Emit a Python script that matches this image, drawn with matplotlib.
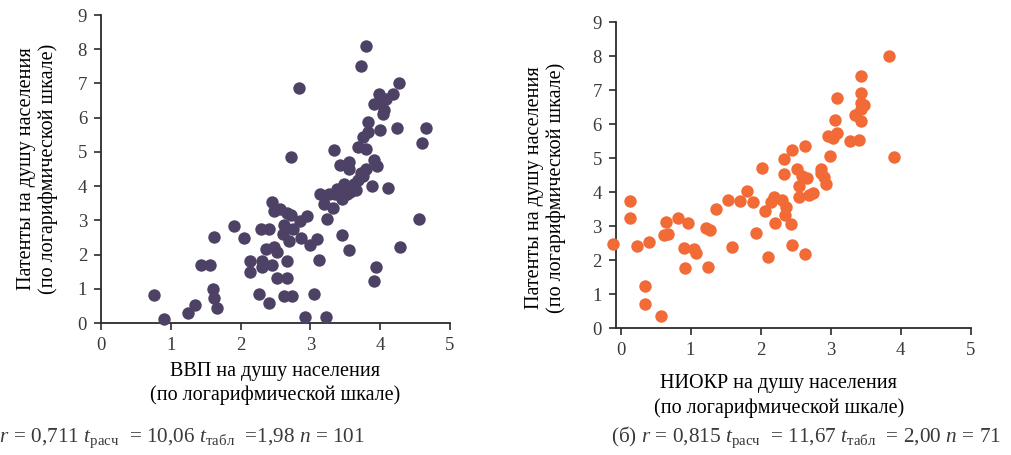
"""Patents vs GDP / R&D per capita scatter panels (log scales)."""

import matplotlib
matplotlib.use("Agg")
import matplotlib.pyplot as plt
import numpy as np


# (а) ВВП на душу населения vs патенты
gdp_x = [
    0.76, 0.91, 1.24, 1.35, 1.43, 1.56, 1.60, 1.62, 1.67, 1.62,
    1.91, 2.05, 2.14, 2.14, 2.27, 2.41, 2.29, 2.41, 2.31, 2.31,
    2.45, 2.36, 2.48, 2.52, 2.53, 2.67, 2.67, 2.63, 2.74, 2.45,
    2.48, 2.56, 2.66, 2.73, 2.63, 2.61, 2.75, 2.70, 2.85, 2.95,
    2.87, 3.00, 3.09, 3.13, 2.92, 3.05, 3.23, 2.72, 2.84, 3.14,
    3.19, 3.24, 3.33, 3.27, 3.34, 3.42, 3.55, 3.56, 3.39, 3.48,
    3.52, 3.45, 3.61, 3.66, 3.69, 3.73, 3.80, 3.91, 3.95, 3.89,
    4.12, 3.46, 3.56, 3.94, 3.91, 4.28, 4.56, 3.69, 3.80, 3.76,
    3.83, 3.83, 4.00, 4.24, 4.66, 4.60, 4.04, 4.06, 3.92, 3.99,
    4.08, 4.18, 4.27, 3.73, 3.80, 3.35, 3.47, 3.57, 3.62, 4.02,
    3.75,
]
gdp_y = [
    0.81, 0.13, 0.30, 0.52, 1.71, 1.69, 1.00, 0.73, 0.44, 2.51,
    2.85, 2.48, 1.82, 1.49, 0.85, 0.58, 2.75, 2.75, 1.82, 1.64,
    1.69, 2.16, 2.22, 2.08, 1.32, 1.32, 1.82, 0.78, 0.78, 3.54,
    3.27, 3.34, 3.22, 3.15, 2.86, 2.59, 2.75, 2.39, 2.98, 3.14,
    2.49, 2.27, 2.47, 1.84, 0.19, 0.85, 0.19, 4.84, 6.86, 3.77,
    3.49, 3.03, 3.37, 3.78, 5.05, 4.61, 4.71, 4.51, 3.91, 4.07,
    3.78, 3.61, 3.98, 3.88, 4.17, 4.37, 4.51, 4.76, 4.58, 4.00,
    3.95, 2.56, 2.12, 1.64, 1.23, 2.22, 3.05, 5.15, 5.08, 5.44,
    5.58, 5.86, 5.63, 5.70, 5.70, 5.27, 6.12, 6.22, 6.39, 6.69,
    6.56, 6.69, 7.00, 7.51, 8.10, 3.78, 3.85, 3.83, 4.05, 6.45,
    4.30,
]

# (б) НИОКР на душу населения vs патенты
rnd_x = [
    -0.11, 0.14, 0.13, 0.23, 0.40, 0.35, 0.35, 0.58, 0.65, 0.62,
    0.68, 0.82, 0.97, 0.90, 1.05, 1.08, 0.92, 1.25, 1.22, 1.28,
    1.37, 1.53, 1.59, 1.70, 1.80, 1.89, 1.94, 2.02, 2.07, 2.10,
    2.15, 2.19, 2.20, 2.31, 2.33, 2.33, 2.37, 2.35, 2.43, 2.45,
    2.45, 2.52, 2.55, 2.55, 2.59, 2.67, 2.64, 2.63, 2.69, 2.75,
    2.86, 2.86, 2.90, 2.93, 2.99, 2.97, 3.04, 3.09, 3.07, 3.09,
    3.28, 3.40, 3.35, 3.44, 3.43, 3.43, 3.48, 3.44, 3.44, 3.84,
    3.91,
]
rnd_y = [
    2.47, 3.74, 3.25, 2.42, 2.52, 1.25, 0.71, 0.36, 3.11, 2.75,
    2.76, 3.25, 3.10, 2.37, 2.34, 2.20, 1.77, 1.79, 2.95, 2.88,
    3.49, 3.78, 2.39, 3.75, 4.03, 3.71, 2.81, 4.70, 3.46, 2.10,
    3.72, 3.86, 3.08, 3.78, 4.99, 4.53, 3.57, 3.32, 3.06, 2.44,
    5.24, 4.67, 4.18, 3.86, 4.47, 4.43, 5.36, 2.18, 3.93, 3.99,
    4.67, 4.55, 4.45, 4.24, 5.06, 5.65, 5.58, 5.75, 6.12, 6.78,
    5.51, 5.55, 6.28, 6.10, 6.44, 6.61, 6.56, 6.92, 7.41, 8.00,
    5.04,
]

y_label = "Патенты на душу населения\n(по логарифмической шкале)"
gdp_label = "ВВП на душу населения\n(по логарифмической шкале)"
rnd_label = "НИОКР на душу населения\n(по логарифмической шкале)"
caption_a = (r"(а) $r$ = 0,711 $t_{\mathrm{расч}}$  = 10,06 "
             r"$t_{\mathrm{табл}}$  =1,98 $n$ = 101")
caption_b = (r"(б) $r$ = 0,815 $t_{\mathrm{расч}}$  = 11,67 "
             r"$t_{\mathrm{табл}}$  = 2,00 $n$ = 71")

plt.rcParams.update({
    "font.family": ["Liberation Serif", "DejaVu Serif"],
    "mathtext.fontset": "custom",
    "mathtext.rm": "Liberation Serif",
    "mathtext.it": "Liberation Serif:italic",
    "text.color": "#3a3a3a",
    "axes.edgecolor": "#2b2b2b",
    "xtick.color": "#2b2b2b",
    "ytick.color": "#2b2b2b",
    "xtick.labelcolor": "#3a3a3a",
    "ytick.labelcolor": "#3a3a3a",
    "font.size": 12,
})

TEXT = "#3a3a3a"
LABEL_SIZE = 14.5


def _style(ax, xmin):
    ax.set_xlim(xmin, 5)
    ax.set_ylim(0, 9)
    ax.set_xticks(np.arange(0, 6, 1))
    ax.set_yticks(np.arange(0, 10, 1))
    for side in ("top", "right"):
        ax.spines[side].set_visible(False)
    ax.spines["left"].set_linewidth(1.3)
    ax.spines["bottom"].set_linewidth(1.3)
    ax.tick_params(direction="out", length=5, width=1.2, labelsize=13.5,
                   pad=5)


fig = plt.figure(figsize=(10.11, 4.55), dpi=100)

ax_a = fig.add_axes([0.0999, 0.290, 0.345, 0.677])
ax_a.scatter(gdp_x, gdp_y, s=80, color="#4d4266", linewidths=0,
             clip_on=False, zorder=3)
_style(ax_a, 0)
ax_a.set_ylabel(y_label, fontsize=LABEL_SIZE, labelpad=14, linespacing=1.15)
ax_a.set_xlabel(gdp_label, fontsize=LABEL_SIZE, labelpad=6, linespacing=1.3)

ax_b = fig.add_axes([0.609, 0.279, 0.351, 0.672])
ax_b.scatter(rnd_x, rnd_y, s=80, color="#f26a35", linewidths=0,
             clip_on=False, zorder=3)
_style(ax_b, -0.07)
ax_b.set_ylabel(y_label, fontsize=LABEL_SIZE, linespacing=1.15)
ax_b.yaxis.set_label_coords(-0.14, 0.46)
ax_b.set_xlabel(rnd_label, fontsize=LABEL_SIZE, linespacing=1.35)
ax_b.xaxis.set_label_coords(0.46, -0.15)

fig.text(365 / 1011, 0.028, caption_a, fontsize=15.3, ha="right",
         va="baseline", color=TEXT)
fig.text(611 / 1011, 0.028, caption_b, fontsize=15.3, ha="left",
         va="baseline", color=TEXT)

fig.savefig("out.png", dpi=100, facecolor="white")
